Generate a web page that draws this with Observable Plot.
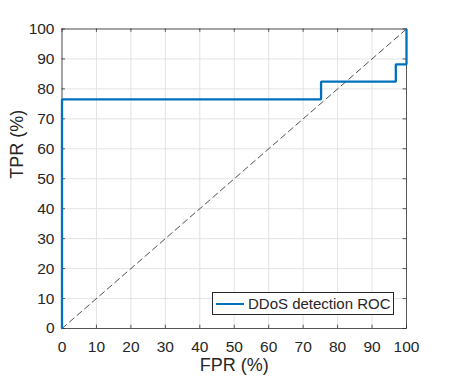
<!DOCTYPE html>
<html>
<head>
<meta charset="utf-8">
<script src="https://cdn.jsdelivr.net/npm/d3@7"></script>
<script src="https://cdn.jsdelivr.net/npm/@observablehq/plot@0.6"></script>
<style>
  html, body { margin: 0; padding: 0; background: #fff; }
  #wrap { position: relative; width: 449px; height: 380px; font-family: "Liberation Sans", Arial, Helvetica, sans-serif; }
  #legend { position: absolute; left: 212px; top: 292px; width: 180px; height: 21px; border: 1px solid #262626; background: #fff; box-sizing: content-box; display: flex; align-items: center; font-size: 15px; color: #262626; }
  #legend .sw { width: 28px; height: 0; border-top: 2.2px solid #0072BD; margin-left: 3px; margin-right: 4px; }
</style>
</head>
<body>
<div id="wrap"></div>
<script>
// ROC curve vertices (FPR %, TPR %)
const rocFPR = [0, 0, 75.2, 75.2, 96.9, 96.9, 100, 100];
const rocTPR = [0, 76.5, 76.5, 82.4, 82.4, 88.2, 88.2, 100];
// chance diagonal
const diagFPR = [0, 100];
const diagTPR = [0, 100];
// tick values
const xTicks = [0, 10, 20, 30, 40, 50, 60, 70, 80, 90, 100];
const yTicks = [0, 10, 20, 30, 40, 50, 60, 70, 80, 90, 100];
const xLabel = "FPR (%)";
const yLabel = "TPR (%)";
const seriesName = "DDoS detection ROC";

const roc = rocFPR.map((x, i) => ({x, y: rocTPR[i]}));
const diag = diagFPR.map((x, i) => ({x, y: diagTPR[i]}));

const axisColor = "#262626";
const gridColor = "#e3e3e3";

const plot = Plot.plot({
  width: 449,
  height: 380,
  marginLeft: 61.5,
  marginRight: 43,
  marginTop: 28.5,
  marginBottom: 52,
  style: {fontFamily: "'Liberation Sans', Arial, Helvetica, sans-serif", fontSize: "15px", color: axisColor, background: "#fff", overflow: "visible"},
  x: {domain: [0, 100]},
  y: {domain: [0, 100]},
  marks: [
    Plot.ruleX(xTicks, {x: d => d, stroke: gridColor, strokeWidth: 1}),
    Plot.ruleY(yTicks, {y: d => d, stroke: gridColor, strokeWidth: 1}),
    Plot.frame({stroke: axisColor, strokeWidth: 1, strokeOpacity: 0.75}),
    // inward ticks: bottom, top, left, right
    Plot.ruleX(xTicks, {x: d => d, y1: 0, y2: 1.1, stroke: axisColor, strokeOpacity: 0.75}),
    Plot.ruleX(xTicks, {x: d => d, y1: 100, y2: 98.9, stroke: axisColor, strokeOpacity: 0.75}),
    Plot.ruleY(yTicks, {y: d => d, x1: 0, x2: 1, stroke: axisColor, strokeOpacity: 0.75}),
    Plot.ruleY(yTicks, {y: d => d, x1: 100, x2: 99, stroke: axisColor, strokeOpacity: 0.75}),
    Plot.axisX({ticks: xTicks, tickSize: 0, tickPadding: 12, label: null, fontSize: 15.5}),
    Plot.axisY({ticks: yTicks, tickSize: 0, tickPadding: 7.5, label: null, fontSize: 15.5}),
    Plot.line(diag, {x: "x", y: "y", stroke: "#222", strokeWidth: 0.8, strokeDasharray: "6,4"}),
    Plot.line(roc, {x: "x", y: "y", stroke: "#0072BD", strokeWidth: 2.3, strokeLinejoin: "miter", strokeLinecap: "butt"}),
    Plot.text([xLabel], {text: d => d, frameAnchor: "bottom", dy: 42, fontSize: 18, fill: axisColor}),
    Plot.text([yLabel], {text: d => d, frameAnchor: "left", dx: -45, rotate: -90, fontSize: 18, fill: axisColor})
  ]
});

const wrap = document.getElementById("wrap");
wrap.appendChild(plot);
const legend = document.createElement("div");
legend.id = "legend";
legend.innerHTML = `<div class="sw"></div><span></span>`;
legend.querySelector("span").textContent = seriesName;
wrap.appendChild(legend);
</script>
</body>
</html>
